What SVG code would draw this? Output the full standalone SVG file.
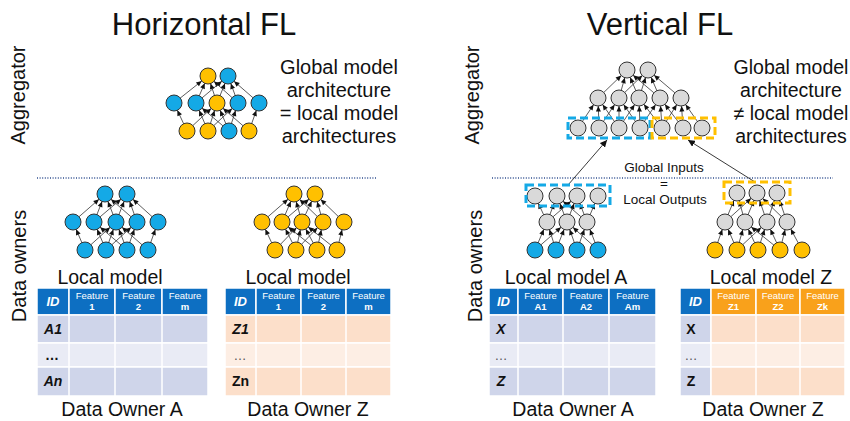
<svg xmlns="http://www.w3.org/2000/svg" width="850" height="421" viewBox="0 0 850 421">
<defs>
<marker id="ah" markerUnits="userSpaceOnUse" markerWidth="6" markerHeight="5" refX="13.5" refY="2.5" orient="auto" overflow="visible">
<path d="M0,0 L5.5,2.5 L0,5 z" fill="#111"/>
</marker>
<marker id="ah2" markerUnits="userSpaceOnUse" markerWidth="8" markerHeight="7" refX="7" refY="3.5" orient="auto">
<path d="M0,0 L7,3.5 L0,7 z" fill="#111"/>
</marker>
</defs>
<style>
text{font-family:"Liberation Sans",Arial,sans-serif;fill:#111}
.title{font-size:31px}
.side{font-size:20px}
.desc{font-size:20px;text-anchor:middle}
.descv{font-size:19.5px;text-anchor:middle}
.lbl{font-size:19.5px;text-anchor:middle}
.small{font-size:13.5px;text-anchor:middle}
.e{stroke:#333;stroke-width:0.8;marker-end:url(#ah)}
.n{stroke:#333;stroke-width:1}
.b{fill:#14a9e6}
.y{fill:#ffc000}
.g{fill:#d9d9d9}
.dot{stroke:#2f4f8f;stroke-width:1.5;stroke-dasharray:1 1.6}
.hb{fill:#0d6fc2;stroke:#fff;stroke-width:1.5}
.ho{fill:#f9a11b;stroke:#fff;stroke-width:1.5}
.r1{fill:#cfd5ea;stroke:#fff;stroke-width:1.5}
.r2{fill:#e9ebf5;stroke:#fff;stroke-width:1.5}
.o1{fill:#fcdfca;stroke:#fff;stroke-width:1.5}
.o2{fill:#fdeee4;stroke:#fff;stroke-width:1.5}
.hid{font-size:13px;font-weight:bold;font-style:italic;fill:#fff;text-anchor:middle}
.hf{font-size:9.5px;fill:#fff;text-anchor:middle}
.hn{font-size:9.5px;fill:#fff;text-anchor:middle;font-weight:bold}
.cell{font-size:14px;font-weight:bold;text-anchor:middle}
.it{font-style:italic}
.ell{font-size:13px;fill:#555;text-anchor:middle}
.dash{fill:none;stroke-width:3;stroke-dasharray:8 4}
.arr{stroke:#222;stroke-width:0.9;marker-end:url(#ah2)}
</style>

<!-- Titles and side labels -->
<text class="title" x="204" y="35" text-anchor="middle">Horizontal FL</text>
<text class="title" x="660" y="35" text-anchor="middle">Vertical FL</text>
<text class="side" transform="translate(25,95) rotate(-90)" text-anchor="middle">Aggregator</text>
<text class="side" transform="translate(479,95) rotate(-90)" text-anchor="middle">Aggregator</text>
<text class="side" transform="translate(26,266) rotate(-90)" text-anchor="middle">Data owners</text>
<text class="side" transform="translate(482,266) rotate(-90)" text-anchor="middle">Data owners</text>

<!-- description texts -->
<g id="desc-h">
<text class="desc" x="339" y="74">Global model</text>
<text class="desc" x="339" y="97">architecture</text>
<text class="desc" x="339" y="120">= local model</text>
<text class="desc" x="339" y="143">architectures</text>
</g>
<g id="desc-v">
<text class="descv" x="791" y="74">Global model</text>
<text class="descv" x="791" y="97">architecture</text>
<text class="descv" x="791" y="120">≠ local model</text>
<text class="descv" x="791" y="143">architectures</text>
</g>

<!-- dotted separators -->
<line class="dot" x1="37" y1="178" x2="377" y2="178"/>
<line class="dot" x1="492" y1="178" x2="833" y2="178"/>

<!-- Connectors -->
<g id="connectors">
<!-- H aggregator -->
<line class="e" x1="174" y1="103" x2="208" y2="76"/>
<line class="e" x1="196" y1="103" x2="208" y2="76"/>
<line class="e" x1="217" y1="103" x2="208" y2="76"/>
<line class="e" x1="238" y1="103" x2="208" y2="76"/>
<line class="e" x1="196" y1="103" x2="228" y2="76"/>
<line class="e" x1="217" y1="103" x2="228" y2="76"/>
<line class="e" x1="238" y1="103" x2="228" y2="76"/>
<line class="e" x1="259" y1="103" x2="228" y2="76"/>
<line class="e" x1="187" y1="131" x2="174" y2="103"/>
<line class="e" x1="187" y1="131" x2="217" y2="103"/>
<line class="e" x1="208" y1="131" x2="196" y2="103"/>
<line class="e" x1="208" y1="131" x2="217" y2="103"/>
<line class="e" x1="208" y1="131" x2="238" y2="103"/>
<line class="e" x1="229" y1="131" x2="196" y2="103"/>
<line class="e" x1="229" y1="131" x2="217" y2="103"/>
<line class="e" x1="229" y1="131" x2="238" y2="103"/>
<line class="e" x1="249" y1="131" x2="217" y2="103"/>
<line class="e" x1="249" y1="131" x2="259" y2="103"/>
<!-- H local A -->
<line class="e" x1="73" y1="222" x2="105" y2="194"/>
<line class="e" x1="94" y1="222" x2="105" y2="194"/>
<line class="e" x1="116" y1="222" x2="105" y2="194"/>
<line class="e" x1="137" y1="222" x2="105" y2="194"/>
<line class="e" x1="94" y1="222" x2="127" y2="194"/>
<line class="e" x1="116" y1="222" x2="127" y2="194"/>
<line class="e" x1="137" y1="222" x2="127" y2="194"/>
<line class="e" x1="158" y1="222" x2="127" y2="194"/>
<line class="e" x1="85" y1="250" x2="73" y2="222"/>
<line class="e" x1="85" y1="250" x2="116" y2="222"/>
<line class="e" x1="106" y1="250" x2="94" y2="222"/>
<line class="e" x1="106" y1="250" x2="116" y2="222"/>
<line class="e" x1="106" y1="250" x2="137" y2="222"/>
<line class="e" x1="127" y1="250" x2="94" y2="222"/>
<line class="e" x1="127" y1="250" x2="116" y2="222"/>
<line class="e" x1="127" y1="250" x2="137" y2="222"/>
<line class="e" x1="148" y1="250" x2="116" y2="222"/>
<line class="e" x1="148" y1="250" x2="158" y2="222"/>
<!-- H local Z -->
<line class="e" x1="262" y1="222" x2="294" y2="194"/>
<line class="e" x1="282" y1="222" x2="294" y2="194"/>
<line class="e" x1="302" y1="222" x2="294" y2="194"/>
<line class="e" x1="323" y1="222" x2="294" y2="194"/>
<line class="e" x1="282" y1="222" x2="315" y2="194"/>
<line class="e" x1="302" y1="222" x2="315" y2="194"/>
<line class="e" x1="323" y1="222" x2="315" y2="194"/>
<line class="e" x1="344" y1="222" x2="315" y2="194"/>
<line class="e" x1="275" y1="250" x2="262" y2="222"/>
<line class="e" x1="275" y1="250" x2="302" y2="222"/>
<line class="e" x1="296" y1="250" x2="282" y2="222"/>
<line class="e" x1="296" y1="250" x2="302" y2="222"/>
<line class="e" x1="296" y1="250" x2="323" y2="222"/>
<line class="e" x1="317" y1="250" x2="282" y2="222"/>
<line class="e" x1="317" y1="250" x2="302" y2="222"/>
<line class="e" x1="317" y1="250" x2="323" y2="222"/>
<line class="e" x1="337" y1="250" x2="302" y2="222"/>
<line class="e" x1="337" y1="250" x2="344" y2="222"/>
<!-- V aggregator -->
<line class="e" x1="598" y1="98" x2="627" y2="70"/>
<line class="e" x1="619" y1="98" x2="627" y2="70"/>
<line class="e" x1="639" y1="98" x2="627" y2="70"/>
<line class="e" x1="660" y1="98" x2="627" y2="70"/>
<line class="e" x1="619" y1="98" x2="648" y2="70"/>
<line class="e" x1="639" y1="98" x2="648" y2="70"/>
<line class="e" x1="660" y1="98" x2="648" y2="70"/>
<line class="e" x1="681" y1="98" x2="648" y2="70"/>
<line class="e" x1="578" y1="128" x2="598" y2="98"/>
<line class="e" x1="599" y1="128" x2="598" y2="98"/>
<line class="e" x1="599" y1="128" x2="619" y2="98"/>
<line class="e" x1="619" y1="128" x2="598" y2="98"/>
<line class="e" x1="619" y1="128" x2="619" y2="98"/>
<line class="e" x1="619" y1="128" x2="639" y2="98"/>
<line class="e" x1="640" y1="128" x2="619" y2="98"/>
<line class="e" x1="640" y1="128" x2="639" y2="98"/>
<line class="e" x1="640" y1="128" x2="660" y2="98"/>
<line class="e" x1="662" y1="128" x2="639" y2="98"/>
<line class="e" x1="662" y1="128" x2="660" y2="98"/>
<line class="e" x1="662" y1="128" x2="681" y2="98"/>
<line class="e" x1="683" y1="128" x2="660" y2="98"/>
<line class="e" x1="683" y1="128" x2="681" y2="98"/>
<line class="e" x1="702" y1="128" x2="681" y2="98"/>
<!-- V local A -->
<line class="e" x1="547" y1="222" x2="535" y2="196"/>
<line class="e" x1="547" y1="222" x2="557" y2="196"/>
<line class="e" x1="547" y1="222" x2="577" y2="196"/>
<line class="e" x1="567" y1="222" x2="557" y2="196"/>
<line class="e" x1="567" y1="222" x2="577" y2="196"/>
<line class="e" x1="587" y1="222" x2="557" y2="196"/>
<line class="e" x1="587" y1="222" x2="577" y2="196"/>
<line class="e" x1="587" y1="222" x2="598" y2="196"/>
<line class="e" x1="535" y1="250" x2="547" y2="222"/>
<line class="e" x1="535" y1="250" x2="567" y2="222"/>
<line class="e" x1="556" y1="250" x2="547" y2="222"/>
<line class="e" x1="556" y1="250" x2="567" y2="222"/>
<line class="e" x1="577" y1="250" x2="567" y2="222"/>
<line class="e" x1="577" y1="250" x2="587" y2="222"/>
<line class="e" x1="598" y1="250" x2="567" y2="222"/>
<line class="e" x1="598" y1="250" x2="587" y2="222"/>
<!-- V local Z -->
<line class="e" x1="725" y1="222" x2="737" y2="193"/>
<line class="e" x1="745" y1="222" x2="737" y2="193"/>
<line class="e" x1="745" y1="222" x2="757" y2="193"/>
<line class="e" x1="767" y1="222" x2="757" y2="193"/>
<line class="e" x1="767" y1="222" x2="777" y2="193"/>
<line class="e" x1="787" y1="222" x2="777" y2="193"/>
<line class="e" x1="725" y1="222" x2="757" y2="193"/>
<line class="e" x1="787" y1="222" x2="757" y2="193"/>
<line class="e" x1="715" y1="250" x2="725" y2="222"/>
<line class="e" x1="737" y1="250" x2="725" y2="222"/>
<line class="e" x1="737" y1="250" x2="745" y2="222"/>
<line class="e" x1="737" y1="250" x2="767" y2="222"/>
<line class="e" x1="758" y1="250" x2="745" y2="222"/>
<line class="e" x1="758" y1="250" x2="767" y2="222"/>
<line class="e" x1="780" y1="250" x2="745" y2="222"/>
<line class="e" x1="780" y1="250" x2="767" y2="222"/>
<line class="e" x1="780" y1="250" x2="787" y2="222"/>
<line class="e" x1="802" y1="250" x2="787" y2="222"/>
<!-- Global inputs arrows -->
<line class="arr" x1="568" y1="185" x2="607" y2="140"/>
<line class="arr" x1="755" y1="182" x2="688" y2="140"/>
</g>

<!-- Nodes: Horizontal aggregator -->
<g id="h-aggregator">
<circle class="n y" cx="208" cy="76" r="8"/><circle class="n b" cx="228" cy="76" r="8"/>
<circle class="n b" cx="174" cy="103" r="8"/><circle class="n b" cx="196" cy="103" r="8"/><circle class="n y" cx="217" cy="103" r="8"/><circle class="n b" cx="238" cy="103" r="8"/><circle class="n b" cx="259" cy="103" r="8"/>
<circle class="n y" cx="187" cy="131" r="8"/><circle class="n y" cx="208" cy="131" r="8"/><circle class="n b" cx="229" cy="131" r="8"/><circle class="n y" cx="249" cy="131" r="8"/>
</g>
<g id="h-local-a">
<circle class="n b" cx="105" cy="194" r="8"/><circle class="n b" cx="127" cy="194" r="8"/>
<circle class="n b" cx="73" cy="222" r="8"/><circle class="n b" cx="94" cy="222" r="8"/><circle class="n b" cx="116" cy="222" r="8"/><circle class="n b" cx="137" cy="222" r="8"/><circle class="n b" cx="158" cy="222" r="8"/>
<circle class="n b" cx="85" cy="250" r="8"/><circle class="n b" cx="106" cy="250" r="8"/><circle class="n b" cx="127" cy="250" r="8"/><circle class="n b" cx="148" cy="250" r="8"/>
<text class="lbl" x="110" y="284">Local model</text>
</g>
<g id="h-local-z">
<circle class="n y" cx="294" cy="194" r="8"/><circle class="n y" cx="315" cy="194" r="8"/>
<circle class="n y" cx="262" cy="222" r="8"/><circle class="n y" cx="282" cy="222" r="8"/><circle class="n y" cx="302" cy="222" r="8"/><circle class="n y" cx="323" cy="222" r="8"/><circle class="n y" cx="344" cy="222" r="8"/>
<circle class="n y" cx="275" cy="250" r="8"/><circle class="n y" cx="296" cy="250" r="8"/><circle class="n y" cx="317" cy="250" r="8"/><circle class="n y" cx="337" cy="250" r="8"/>
<text class="lbl" x="298" y="284">Local model</text>
</g>

<!-- Vertical aggregator -->
<g id="v-aggregator">
<circle class="n g" cx="627" cy="70" r="8"/><circle class="n g" cx="648" cy="70" r="8"/>
<circle class="n g" cx="598" cy="98" r="8"/><circle class="n g" cx="619" cy="98" r="8"/><circle class="n g" cx="639" cy="98" r="8"/><circle class="n g" cx="660" cy="98" r="8"/><circle class="n g" cx="681" cy="98" r="8"/>
<circle class="n g" cx="578" cy="128" r="8"/><circle class="n g" cx="599" cy="128" r="8"/><circle class="n g" cx="619" cy="128" r="8"/><circle class="n g" cx="640" cy="128" r="8"/><circle class="n g" cx="662" cy="128" r="8"/><circle class="n g" cx="683" cy="128" r="8"/><circle class="n g" cx="702" cy="128" r="8"/>
<rect class="dash" x="568" y="118" width="82" height="20" stroke="#14a9e6"/>
<rect class="dash" x="652" y="118" width="63" height="20" stroke="#ffc000"/>
</g>
<g id="global-inputs">
<text class="small" x="664" y="172">Global Inputs</text>
<text class="small" x="664" y="188">=</text>
<text class="small" x="665" y="204">Local Outputs</text>
</g>
<g id="v-local-a">
<circle class="n g" cx="535" cy="196" r="8"/><circle class="n g" cx="557" cy="196" r="8"/><circle class="n g" cx="577" cy="196" r="8"/><circle class="n g" cx="598" cy="196" r="8"/>
<circle class="n g" cx="547" cy="222" r="8"/><circle class="n g" cx="567" cy="222" r="8"/><circle class="n g" cx="587" cy="222" r="8"/>
<circle class="n b" cx="535" cy="250" r="8"/><circle class="n b" cx="556" cy="250" r="8"/><circle class="n b" cx="577" cy="250" r="8"/><circle class="n b" cx="598" cy="250" r="8"/>
<rect class="dash" x="526" y="185" width="84" height="21" stroke="#14a9e6"/>
<text class="lbl" x="566" y="284">Local model A</text>
</g>
<g id="v-local-z">
<circle class="n g" cx="737" cy="193" r="8"/><circle class="n g" cx="757" cy="193" r="8"/><circle class="n g" cx="777" cy="193" r="8"/>
<circle class="n g" cx="725" cy="222" r="8"/><circle class="n g" cx="745" cy="222" r="8"/><circle class="n g" cx="767" cy="222" r="8"/><circle class="n g" cx="787" cy="222" r="8"/>
<circle class="n y" cx="715" cy="250" r="8"/><circle class="n y" cx="737" cy="250" r="8"/><circle class="n y" cx="758" cy="250" r="8"/><circle class="n y" cx="780" cy="250" r="8"/><circle class="n y" cx="802" cy="250" r="8"/>
<rect class="dash" x="724" y="182" width="66" height="21" stroke="#ffc000"/>
<text class="lbl" x="771" y="284">Local model Z</text>
</g>

<!-- Tables -->
<g id="table-h-a">
<rect class="hb" x="37" y="288" width="32" height="27"/><rect class="hb" x="69" y="288" width="46" height="27"/><rect class="hb" x="115" y="288" width="47" height="27"/><rect class="hb" x="162" y="288" width="46" height="27"/>
<rect class="r1" x="37" y="315" width="171" height="28"/><rect class="r2" x="37" y="343" width="171" height="24"/><rect class="r1" x="37" y="367" width="171" height="29"/>
<path d="M69,315V396M115,315V396M162,315V396" stroke="#fff" stroke-width="1.5"/>
<text class="hid" x="53" y="306">ID</text>
<text class="hf" x="92" y="299">Feature</text><text class="hn" x="92" y="310">1</text>
<text class="hf" x="138.5" y="299">Feature</text><text class="hn" x="138.5" y="310">2</text>
<text class="hf" x="185" y="299">Feature</text><text class="hn" x="185" y="310">m</text>
<text class="cell it" x="53" y="334">A1</text>
<text class="cell" x="52" y="360">…</text>
<text class="cell it" x="53" y="386">An</text>
<text class="lbl" x="122" y="416">Data Owner A</text>
</g>
<g id="table-h-z">
<rect class="hb" x="225" y="288" width="31" height="27"/><rect class="hb" x="256" y="288" width="45" height="27"/><rect class="hb" x="301" y="288" width="45" height="27"/><rect class="hb" x="346" y="288" width="45" height="27"/>
<rect class="o1" x="225" y="315" width="166" height="28"/><rect class="o2" x="225" y="343" width="166" height="24"/><rect class="o1" x="225" y="367" width="166" height="29"/>
<path d="M256,315V396M301,315V396M346,315V396" stroke="#fff" stroke-width="1.5"/>
<text class="hid" x="240.5" y="306">ID</text>
<text class="hf" x="278.5" y="299">Feature</text><text class="hn" x="278.5" y="310">1</text>
<text class="hf" x="323.5" y="299">Feature</text><text class="hn" x="323.5" y="310">2</text>
<text class="hf" x="368.5" y="299">Feature</text><text class="hn" x="368.5" y="310">m</text>
<text class="cell it" x="240.5" y="334">Z1</text>
<text class="ell" x="240" y="360">…</text>
<text class="cell" x="240.5" y="386">Zn</text>
<text class="lbl" x="308" y="416">Data Owner Z</text>
</g>
<g id="table-v-a">
<rect class="hb" x="489" y="288" width="29" height="27"/><rect class="hb" x="518" y="288" width="45" height="27"/><rect class="hb" x="563" y="288" width="46" height="27"/><rect class="hb" x="609" y="288" width="47" height="27"/>
<rect class="r1" x="489" y="315" width="167" height="28"/><rect class="r2" x="489" y="343" width="167" height="24"/><rect class="r1" x="489" y="367" width="167" height="29"/>
<path d="M518,315V396M563,315V396M609,315V396" stroke="#fff" stroke-width="1.5"/>
<text class="hid" x="503.5" y="306">ID</text>
<text class="hf" x="540.5" y="299">Feature</text><text class="hn" x="540.5" y="310">A1</text>
<text class="hf" x="586" y="299">Feature</text><text class="hn" x="586" y="310">A2</text>
<text class="hf" x="632.5" y="299">Feature</text><text class="hn" x="632.5" y="310">Am</text>
<text class="cell it" x="501" y="334">X</text>
<text class="ell" x="501" y="360">…</text>
<text class="cell it" x="501" y="386">Z</text>
<text class="lbl" x="573" y="416">Data Owner A</text>
</g>
<g id="table-v-z">
<rect class="hb" x="680" y="288" width="31" height="27"/><rect class="ho" x="711" y="288" width="45" height="27"/><rect class="ho" x="756" y="288" width="44" height="27"/><rect class="ho" x="800" y="288" width="45" height="27"/>
<rect class="r1" x="680" y="315" width="31" height="28"/><rect class="r2" x="680" y="343" width="31" height="24"/><rect class="r1" x="680" y="367" width="31" height="29"/>
<rect class="o1" x="711" y="315" width="134" height="28"/><rect class="o2" x="711" y="343" width="134" height="24"/><rect class="o1" x="711" y="367" width="134" height="29"/>
<path d="M756,315V396M800,315V396" stroke="#fff" stroke-width="1.5"/>
<text class="hid" x="695.5" y="306">ID</text>
<text class="hf" x="733.5" y="299">Feature</text><text class="hn" x="733.5" y="310">Z1</text>
<text class="hf" x="778" y="299">Feature</text><text class="hn" x="778" y="310">Z2</text>
<text class="hf" x="822.5" y="299">Feature</text><text class="hn" x="822.5" y="310">Zk</text>
<text class="cell" x="691" y="334">X</text>
<text class="ell" x="691" y="360">…</text>
<text class="cell" x="691" y="386">Z</text>
<text class="lbl" x="763" y="416">Data Owner Z</text>
</g>
</svg>
